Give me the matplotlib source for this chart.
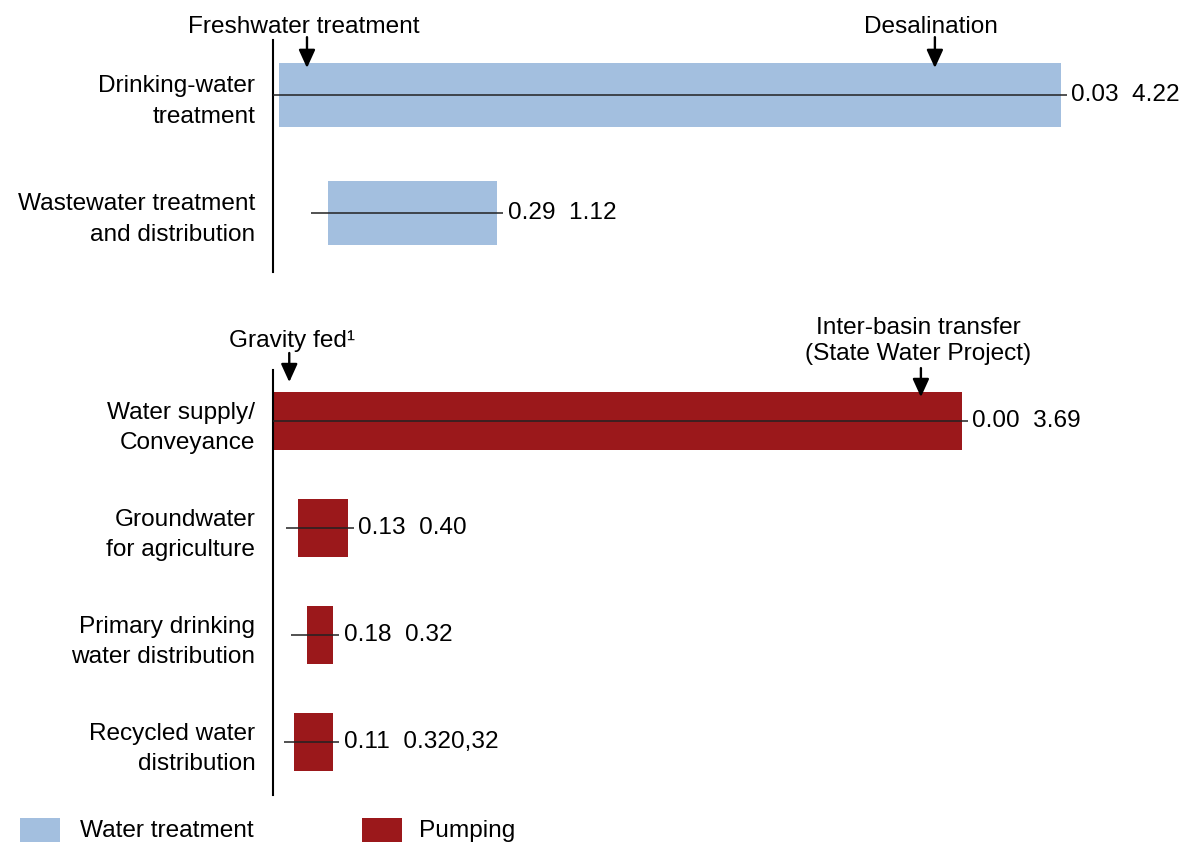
import matplotlib
matplotlib.use("Agg")
import matplotlib.pyplot as plt
from matplotlib.patches import Rectangle

plt.rcParams['font.family'] = ['Liberation Sans', 'DejaVu Sans']

# ---------------- data ----------------
top_categories = ["Drinking-water\ntreatment", "Wastewater treatment\nand distribution"]
top_low = [0.03, 0.29]
top_high = [4.22, 1.20]          # bar ends as drawn in the picture
top_line_start = [0.0, 0.20]
top_labels = ["0.03  4.22", "0.29  1.12"]

bot_categories = ["Water supply/\nConveyance", "Groundwater\nfor agriculture",
                  "Primary drinking\nwater distribution", "Recycled water\ndistribution"]
bot_low = [0.00, 0.13, 0.18, 0.11]
bot_high = [3.69, 0.40, 0.32, 0.32]
bot_line_start = [0.0, 0.065, 0.095, 0.055]
bot_labels = ["0.00  3.69", "0.13  0.40", "0.18  0.32", "0.11  0.320,32"]

top_notes = ["Freshwater treatment", "Desalination"]
top_note_x = [0.18, 3.545]
top_note_text_x = [0.163, 3.524]
bot_notes = ["Gravity fed¹", "Inter-basin transfer\n(State Water Project)"]
bot_note_x = [0.085, 3.47]
bot_note_text_x = [0.10, 3.457]

legend_labels = ["Water treatment", "Pumping"]

# ---------------- style ----------------
BLUE = '#A3BFDF'
RED = '#9B181B'
FS = 17.6
W, H = 1184, 842
PX_PER_UNIT = 186.6
X0 = 273.4
XMAX = (W - X0) / PX_PER_UNIT
EXT = 6 / PX_PER_UNIT

fig = plt.figure(figsize=(W / 100, H / 100), dpi=100)


def make_axes(top_px, bot_px, ylim):
    ax = fig.add_axes([X0 / W, (H - bot_px) / H, (W - X0) / W, (bot_px - top_px) / H])
    ax.set_xlim(0, XMAX)
    ax.set_ylim(*ylim)
    for s in ['top', 'right', 'bottom']:
        ax.spines[s].set_visible(False)
    ax.spines['left'].set_linewidth(1.5)
    ax.set_xticks([])
    ax.tick_params(axis='y', length=0, pad=13, labelsize=FS)
    return ax


def draw_panel(ax, cats, low, high, start, labels, color):
    ys = list(range(len(cats)))
    ax.barh(ys, [h - l for l, h in zip(low, high)], left=low, height=0.54,
            color=color, edgecolor='none', zorder=2)
    for y, s, h, lab in zip(ys, start, high, labels):
        ax.plot([s, h + EXT], [y, y], color='#222222', lw=1.1, zorder=3,
                solid_capstyle='butt', clip_on=False)
        ax.annotate(lab, xy=(h, y), xytext=(7.5, 0), textcoords='offset points',
                    va='center', ha='left', fontsize=FS, annotation_clip=False)
    ax.set_yticks(ys)
    ax.set_yticklabels(cats)
    for tl in ax.get_yticklabels():
        tl.set_linespacing(1.5)


def arrow(ax, x, y0, y1):
    ax.annotate('', xy=(x, y1), xytext=(x, y0),
                arrowprops=dict(arrowstyle='-|>,head_length=0.55,head_width=0.25',
                                color='black', lw=1.7, shrinkA=0, shrinkB=0,
                                mutation_scale=20),
                annotation_clip=False, zorder=5)


# top panel
ax1 = make_axes(40, 272, (1.5, -0.466))
draw_panel(ax1, top_categories, top_low, top_high, top_line_start, top_labels, BLUE)
for note, xa, xt in zip(top_notes, top_note_x, top_note_text_x):
    arrow(ax1, xa, -0.49, -0.229)
    ax1.text(xt, -0.576, note, ha='center', va='center', fontsize=FS, clip_on=False)

# bottom panel
ax2 = make_axes(370, 795, (3.495, -0.477))
draw_panel(ax2, bot_categories, bot_low, bot_high, bot_line_start, bot_labels, RED)
arrow(ax2, bot_note_x[0], -0.636, -0.364)
ax2.text(bot_note_text_x[0], -0.75, bot_notes[0], ha='center', va='center',
         fontsize=FS, clip_on=False)
arrow(ax2, bot_note_x[1], -0.495, -0.224)
ax2.text(bot_note_text_x[1], -0.745, bot_notes[1], ha='center', va='center',
         fontsize=FS, clip_on=False, linespacing=1.25)

# legend (manual)
for (x_rect, x_txt), lab, col in zip([(20, 80), (362, 419)], legend_labels, [BLUE, RED]):
    fig.add_artist(Rectangle((x_rect / W, 0), 40 / W, 24 / H, transform=fig.transFigure,
                             facecolor=col, edgecolor='none'))
    fig.text(x_txt / W, 11 / H, lab, ha='left', va='center', fontsize=FS)

fig.savefig('out.png', dpi=100)
